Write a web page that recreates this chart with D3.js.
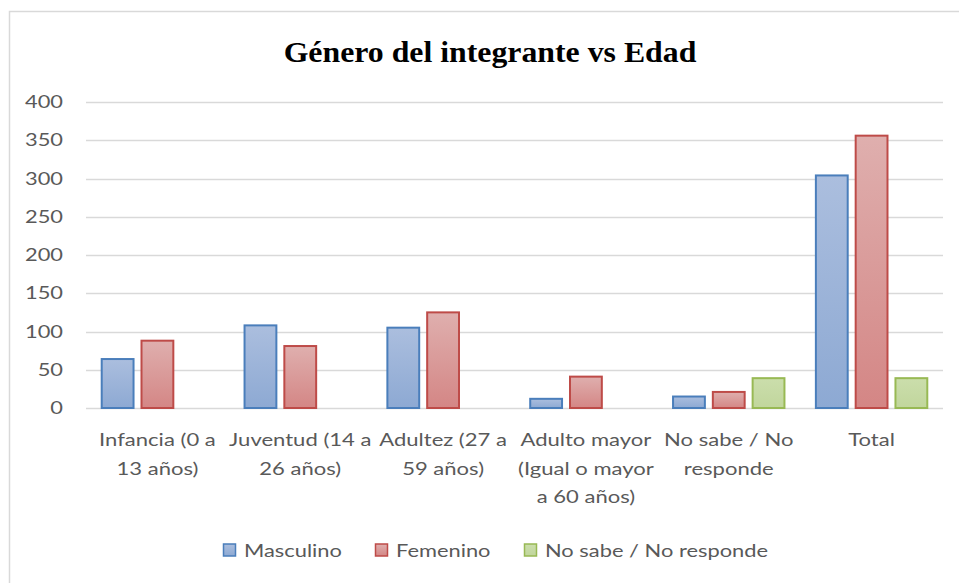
<!DOCTYPE html>
<html>
<head>
<meta charset="utf-8">
<script src="https://cdn.jsdelivr.net/npm/d3@7"></script>
<style>
  html, body { margin: 0; padding: 0; background: #fff; }
  svg { display: block; }
  text { font-family: Lato, "Open Sans", sans-serif; fill: #595959; }
</style>
</head>
<body>
<svg id="chart" width="959" height="583"></svg>
<script>
const title = "Género del integrante vs Edad";
const categories = [
  "Infancia (0 a 13 años)",
  "Juventud (14 a 26 años)",
  "Adultez (27 a 59 años)",
  "Adulto mayor (Igual o mayor a 60 años)",
  "No sabe / No responde",
  "Total"
];
const categoryLines = [
  ["Infancia (0 a", "13 años)"],
  ["Juventud (14 a", "26 años)"],
  ["Adultez (27 a", "59 años)"],
  ["Adulto mayor", "(Igual o mayor", "a 60 años)"],
  ["No sabe / No", "responde"],
  ["Total"]
];
const seriesNames = ["Masculino", "Femenino", "No sabe / No responde"];
const masculino = [64, 108, 105, 12, 15, 304];
const femenino = [88, 81, 125, 41, 21, 356];
const noSabe = [0, 0, 0, 0, 39, 39];
const yTicks = [0, 50, 100, 150, 200, 250, 300, 350, 400];

(function () {
const seriesValues = [masculino, femenino, noSabe];
const fillTop = ["#abbede", "#dfafae", "#cbdeac"];
const fillBottom = ["#8da9d3", "#d48685", "#c1d69c"];
const strokes = ["#4a7ebb", "#be4b48", "#98b954"];
const FS = 17.5;

const svg = d3.select("#chart");
const defs = svg.append("defs");
seriesNames.forEach((s, i) => {
  const g = defs.append("linearGradient").attr("id", "grad" + i)
    .attr("x1", 0).attr("y1", 0).attr("x2", 0).attr("y2", 1);
  g.append("stop").attr("offset", "0%").attr("stop-color", fillTop[i]);
  g.append("stop").attr("offset", "100%").attr("stop-color", fillBottom[i]);
});

// chart border
svg.append("rect").attr("x", 9.5).attr("y", 11.5).attr("width", 1000).attr("height", 700)
  .attr("fill", "none").attr("stroke", "#d9d9d9").attr("stroke-width", 1.5);

const pLeft = 86, pRight = 943, pTop = 102, pBottom = 408;

const y = d3.scaleLinear().domain([0, 400]).range([pBottom, pTop]);
const x0 = d3.scaleBand().domain(categories).range([pLeft, pRight])
  .paddingInner(0.213).paddingOuter(0.1065);
const x1 = d3.scaleBand().domain(seriesNames).range([0, x0.bandwidth()])
  .paddingInner(0.175).paddingOuter(0);

// gridlines
svg.append("g").selectAll("line").data(yTicks).join("line")
  .attr("x1", pLeft).attr("x2", pRight)
  .attr("y1", d => Math.round(y(d)) + 0.5).attr("y2", d => Math.round(y(d)) + 0.5)
  .attr("stroke", "#d9d9d9").attr("stroke-width", 1.5);

// y axis labels
const yAxis = d3.axisLeft(y).tickValues(yTicks).tickSize(0).tickPadding(0);
const yg = svg.append("g").attr("transform", `translate(63,0)`).call(yAxis);
yg.select(".domain").remove();
yg.selectAll("text").attr("font-size", FS).attr("fill", "#595959")
  .style("font-family", "Lato, sans-serif")
  .attr("transform", "scale(1.25,1)");

// bars
const groups = svg.append("g").selectAll("g").data(categories).join("g")
  .attr("transform", d => `translate(${x0(d)},0)`);
groups.each(function(cat, ci) {
  const g = d3.select(this);
  seriesNames.forEach((s, si) => {
    const v = seriesValues[si][ci];
    if (!v) return;
    g.append("rect")
      .attr("x", x1(s) + 0.5)
      .attr("y", y(v))
      .attr("width", x1.bandwidth() - 1)
      .attr("height", y(0) - y(v))
      .attr("fill", `url(#grad${si})`)
      .attr("stroke", strokes[si])
      .attr("stroke-width", 2);
  });
});

// x axis labels
const xAxis = d3.axisBottom(x0).tickSize(0).tickPadding(0);
const xg = svg.append("g").attr("transform", `translate(0,${pBottom})`).call(xAxis);
xg.select(".domain").remove();
xg.selectAll("text").attr("font-size", FS).attr("fill", "#595959")
  .style("font-family", "Lato, sans-serif")
  .attr("y", 0).attr("dy", null)
  .attr("transform", "scale(1.26,1)")
  .each(function(d) {
    const t = d3.select(this);
    t.text(null);
    categoryLines[categories.indexOf(d)].forEach((ln, i) => {
      t.append("tspan").attr("x", 0).attr("y", 38.5 + i * 28.5).text(ln);
    });
  });

// title
svg.append("text").attr("x", 0).attr("y", 0).attr("text-anchor", "middle")
  .attr("transform", "translate(490,62) scale(1.06,1)")
  .style("font-family", "'Liberation Serif', 'Times New Roman', serif")
  .attr("font-weight", "bold").attr("font-size", 30)
  .style("fill", "#000")
  .text(title);

// legend
const legendX = [223, 375, 524];
const lg = svg.append("g").selectAll("g").data(seriesNames).join("g")
  .attr("transform", (d, i) => `translate(${legendX[i]},544)`);
lg.append("rect").attr("x", 0.5).attr("y", 0).attr("width", 12).attr("height", 12)
  .attr("fill", (d, i) => `url(#grad${i})`)
  .attr("stroke", (d, i) => strokes[i]).attr("stroke-width", 1.5);
lg.append("text").attr("x", 0).attr("y", 0)
  .attr("transform", "translate(21,12.5) scale(1.25,1)")
  .attr("font-size", FS)
  .text(d => d);
})();
</script>
</body>
</html>
